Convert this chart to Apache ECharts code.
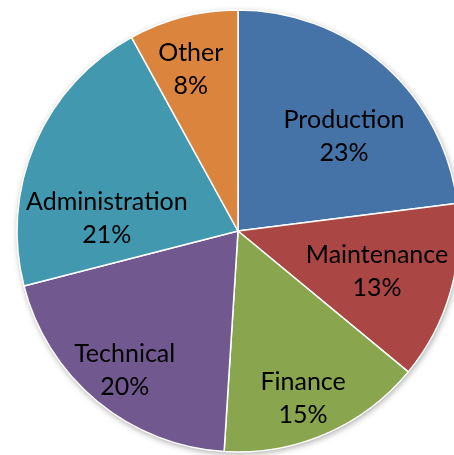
<!DOCTYPE html>
<html>
<head>
<meta charset="utf-8">
<style>
  html, body { margin: 0; padding: 0; background: #ffffff; }
  #chart { width: 454px; height: 455px; }
</style>
<script src="https://cdn.jsdelivr.net/npm/echarts@6/dist/echarts.min.js"></script>
</head>
<body>
<div id="chart"></div>
<script>
// Staff distribution by department (percent of total)
const categories = ['Production', 'Maintenance', 'Finance', 'Technical', 'Administration', 'Other'];
const shares = [23, 13, 15, 20, 21, 8];
const sliceColors = ['#4572A7', '#AA4643', '#89A54E', '#71588F', '#4198AF', '#DB843D'];
// Nudges (px) applied to each label from its default inside position
const labelNudge = [[31, -9], [30, 9], [20, 63], [-41, 52], [-27, 33], [-19, -52]];

const chart = echarts.init(document.getElementById('chart'), null, { renderer: 'canvas' });

const pieData = categories.map((name, i) => ({
  name: name,
  value: shares[i],
  itemStyle: { color: sliceColors[i] }
}));

chart.setOption({
  animation: false,
  backgroundColor: '#ffffff',
  series: [
    {
      // soft drop shadow under the whole pie
      type: 'pie',
      silent: true,
      startAngle: 90,
      clockwise: true,
      center: [238, 231],
      radius: [0, 221],
      z: 1,
      label: { show: false },
      labelLine: { show: false },
      data: shares.map((v) => ({ value: v })),
      itemStyle: {
        color: '#ffffff',
        borderWidth: 0,
        shadowBlur: 6,
        shadowOffsetX: 1,
        shadowOffsetY: 2,
        shadowColor: 'rgba(0,0,0,0.35)'
      }
    },
    {
      type: 'pie',
      startAngle: 90,
      clockwise: true,
      center: [238, 231],
      radius: [0, 221],
      z: 2,
      data: pieData,
      itemStyle: { borderColor: '#ffffff', borderWidth: 1.5 },
      label: {
        show: true,
        position: 'inside',
        formatter: (p) => p.name + '\n' + p.value + '%',
        fontFamily: 'Lato',
        fontSize: 25,
        lineHeight: 33,
        color: '#000000',
        align: 'center'
      },
      labelLine: { show: false },
      labelLayout: (params) => {
        const n = labelNudge[params.dataIndex];
        return { dx: n[0], dy: n[1] };
      }
    }
  ]
});
</script>
</body>
</html>
